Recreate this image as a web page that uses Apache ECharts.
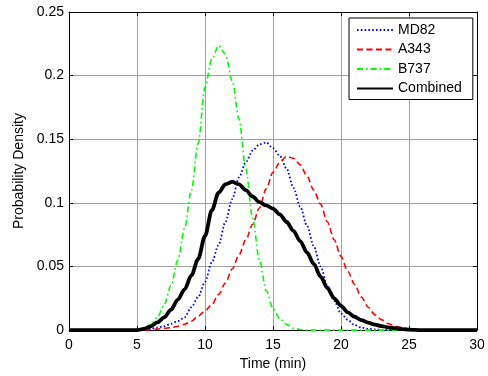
<!DOCTYPE html>
<html>
<head>
<meta charset="utf-8">
<script src="https://cdn.jsdelivr.net/npm/echarts@6/dist/echarts.min.js"></script>
<style>
html,body{margin:0;padding:0;background:#fff;}
#chart{width:488px;height:376px;}
</style>
</head>
<body>
<div id="chart"></div>
<script>
// Sample times (min)
const times = [0, 5, 5.5, 6, 6.5, 7, 7.5, 8, 8.5, 9, 9.5, 10, 10.5, 11, 11.5, 12, 12.5, 13, 13.5, 14, 14.5, 15, 15.5, 16, 16.5, 17, 17.5, 18, 18.5, 19, 19.5, 20, 20.5, 21, 21.5, 22, 22.5, 23, 23.5, 24, 24.5, 25, 25.5, 26, 30];

const md82 = [0, 0, 0.0003, 0.001, 0.002, 0.003, 0.005, 0.007, 0.010, 0.018, 0.026, 0.038, 0.053, 0.067, 0.085, 0.103, 0.120, 0.132, 0.141, 0.146, 0.1475, 0.143, 0.137, 0.127, 0.112, 0.097, 0.082, 0.066, 0.050, 0.035, 0.023, 0.013, 0.008, 0.004, 0.002, 0.001, 0.0005, 0.0002, 0, 0, 0, 0, 0, 0, 0];

const a343 = [0, 0, 0.0001, 0.0003, 0.0008, 0.0014, 0.002, 0.003, 0.0045, 0.007, 0.011, 0.015, 0.020, 0.028, 0.037, 0.048, 0.059, 0.071, 0.083, 0.096, 0.111, 0.124, 0.132, 0.1365, 0.135, 0.130, 0.121, 0.110, 0.099, 0.085, 0.071, 0.058, 0.046, 0.036, 0.026, 0.018, 0.012, 0.008, 0.005, 0.003, 0.002, 0.001, 0.0005, 0, 0];

const b737 = [0, 0, 0.001, 0.004, 0.010, 0.020, 0.035, 0.055, 0.080, 0.110, 0.147, 0.191, 0.213, 0.2235, 0.217, 0.196, 0.166, 0.127, 0.088, 0.055, 0.031, 0.017, 0.009, 0.0045, 0.0015, 0.0005, 0, 0, 0, 0, 0, 0, 0, 0, 0, 0, 0, 0, 0, 0, 0, 0, 0, 0, 0];

const combined = [0, 0, 0.001, 0.003, 0.006, 0.010, 0.016, 0.024, 0.032, 0.043, 0.056, 0.074, 0.094, 0.108, 0.1145, 0.1165, 0.1145, 0.110, 0.105, 0.1005, 0.098, 0.0955, 0.091, 0.085, 0.078, 0.070, 0.061, 0.052, 0.042, 0.033, 0.025, 0.019, 0.014, 0.0105, 0.0078, 0.0058, 0.0043, 0.0031, 0.0022, 0.0014, 0.0008, 0.0004, 0.0001, 0, 0];

const xTicks = [0, 5, 10, 15, 20, 25, 30];
const yTicks = [0, 0.05, 0.1, 0.15, 0.2, 0.25];

const pairs = ys => times.map((t, i) => [t, ys[i]]);
const FONT = 'Liberation Sans, Arial, sans-serif';

const chart = echarts.init(document.getElementById('chart'), null, {renderer: 'canvas'});

const axisCommon = {
  axisLine: {show: true, onZero: false, lineStyle: {color: '#000', width: 1}},
  axisTick: {show: true, inside: true, length: 4, lineStyle: {color: '#000'}},
};

chart.setOption({
  animation: false,
  backgroundColor: '#fff',
  textStyle: {fontFamily: FONT},
  grid: {left: 69, right: 11, top: 12, bottom: 43, containLabel: false},
  legend: {
    orient: 'vertical',
    left: 349, top: 18,
    itemWidth: 36, itemHeight: 14, itemGap: 5.5,
    padding: [5, 11, 4, 7],
    borderColor: '#000', borderWidth: 1, borderRadius: 0,
    backgroundColor: '#fff',
    itemStyle: {opacity: 0},
    textStyle: {fontFamily: FONT, fontSize: 14, color: '#000'},
    data: ['MD82', 'A343', 'B737', 'Combined']
  },
  xAxis: [
    Object.assign({
      type: 'value', min: xTicks[0], max: xTicks[xTicks.length - 1], interval: 5,
      position: 'bottom',
      name: 'Time (min)', nameLocation: 'middle', nameGap: 26,
      nameTextStyle: {fontFamily: FONT, fontSize: 14, color: '#000'},
      axisLabel: {margin: 8, fontFamily: FONT, fontSize: 14, color: '#000'},
      splitLine: {show: true, lineStyle: {color: '#a0a0a0', width: 1}}
    }, axisCommon),
    Object.assign({
      type: 'value', min: xTicks[0], max: xTicks[xTicks.length - 1], interval: 5,
      position: 'top',
      axisLabel: {show: false},
      splitLine: {show: false}
    }, axisCommon)
  ],
  yAxis: [
    Object.assign({
      type: 'value', min: yTicks[0], max: yTicks[yTicks.length - 1], interval: 0.05,
      position: 'left',
      name: 'Probability Density', nameLocation: 'middle', nameGap: 39,
      nameTextStyle: {fontFamily: FONT, fontSize: 14, color: '#000'},
      axisLabel: {margin: 5, fontFamily: FONT, fontSize: 14, color: '#000'},
      splitLine: {show: true, lineStyle: {color: '#a0a0a0', width: 1}}
    }, axisCommon),
    Object.assign({
      type: 'value', min: yTicks[0], max: yTicks[yTicks.length - 1], interval: 0.05,
      position: 'right',
      axisLabel: {show: false},
      splitLine: {show: false}
    }, axisCommon)
  ],
  series: [
    {name: 'MD82', type: 'line', data: pairs(md82), showSymbol: false, symbol: 'none', smooth: 0.3, smoothMonotone: 'x',
      lineStyle: {color: '#0000ff', width: 1.8, type: [1.6, 2.2]}, itemStyle: {color: '#0000ff'}, z: 3},
    {name: 'A343', type: 'line', data: pairs(a343), showSymbol: false, symbol: 'none', smooth: 0.3, smoothMonotone: 'x',
      lineStyle: {color: '#ff0000', width: 1.6, type: [6, 3.5]}, itemStyle: {color: '#ff0000'}, z: 3},
    {name: 'B737', type: 'line', data: pairs(b737), showSymbol: false, symbol: 'none', smooth: 0.3, smoothMonotone: 'x',
      lineStyle: {color: '#00ff00', width: 1.6, type: [6, 3, 1.6, 3]}, itemStyle: {color: '#00ff00'}, z: 3},
    {name: 'Combined', type: 'line', data: pairs(combined), showSymbol: false, symbol: 'none', smooth: 0.3, smoothMonotone: 'x',
      lineStyle: {color: '#000000', width: 3.8, type: 'solid'}, itemStyle: {color: '#000000'}, z: 4}
  ]
});
</script>
</body>
</html>
